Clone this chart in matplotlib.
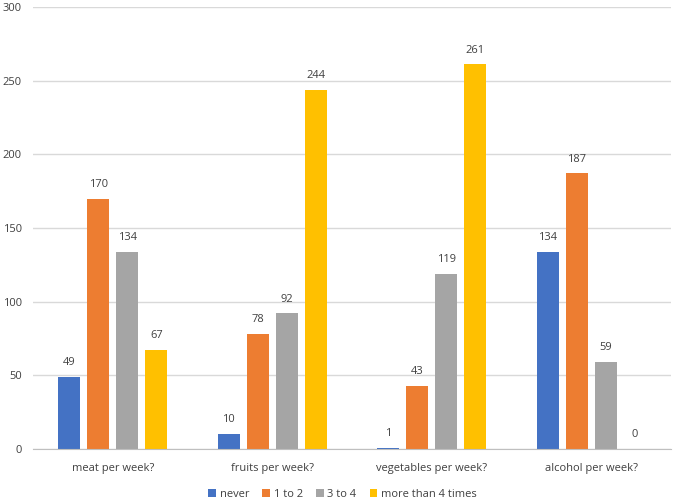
import matplotlib
matplotlib.use("Agg")
import matplotlib.pyplot as plt
import numpy as np

categories = ["meat per week?", "fruits per week?", "vegetables per week?", "alcohol per week?"]
series_names = ["never", "1 to 2", "3 to 4", "more than 4 times"]
never = [49, 10, 1, 134]
one_to_two = [170, 78, 43, 187]
three_to_four = [134, 92, 119, 59]
more_than_four = [67, 244, 261, 0]
colors = ["#4472C4", "#ED7D31", "#A5A5A5", "#FFC000"]

plt.rcParams['font.family'] = ['Open Sans', 'DejaVu Sans']
fig = plt.figure(figsize=(6.74, 5.0), dpi=100)
ax = fig.add_axes([33/674, 51/500, (671-33)/674, (449-7)/500])

x = np.arange(len(categories))
step = 0.182
width = 0.138
data = [never, one_to_two, three_to_four, more_than_four]
txtc = "#404040"
for i, (vals, name, c) in enumerate(zip(data, series_names, colors)):
    pos = x + (i - 1.5) * step
    ax.bar(pos, vals, width=width, color=c, label=name, zorder=3)
    for p, v in zip(pos, vals):
        ax.text(p, v + 6, str(v), ha="center", va="bottom", fontsize=8, color=txtc)

ax.set_xlim(-0.5, 3.5)
ax.set_ylim(0, 300)
ax.set_yticks(range(0, 301, 50))
ax.set_xticks(x)
ax.set_xticklabels(categories)
ax.tick_params(axis="both", length=0, labelsize=8, colors=txtc)
ax.tick_params(axis="x", pad=10)
ax.tick_params(axis="y", pad=8)
ax.grid(axis="y", color="#D9D9D9", linewidth=1, zorder=0)
for s in ["top", "right", "left"]:
    ax.spines[s].set_visible(False)
ax.spines["bottom"].set_color("#BFBFBF")
ax.spines["bottom"].set_zorder(4)

leg = ax.legend(loc="lower center", bbox_to_anchor=(0.485, -0.125), ncol=4, frameon=False,
                fontsize=8, handlelength=0.7, handleheight=0.7, handletextpad=0.3,
                columnspacing=1.2, borderaxespad=0)
for t in leg.get_texts():
    t.set_color(txtc)

fig.savefig("out.png", dpi=100)
